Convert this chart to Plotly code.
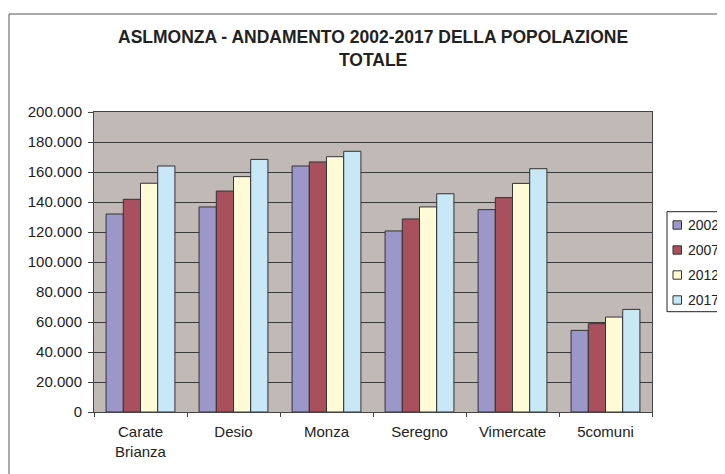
import plotly.graph_objects as go

categories = ["Carate<br>Brianza", "Desio", "Monza", "Seregno", "Vimercate", "5comuni"]
series_names = ["2002", "2007", "2012*", "2017*"]
v2002 = [132000, 136700, 164000, 120700, 134900, 54400]
v2007 = [141800, 147300, 166700, 128700, 142900, 58900]
v2012 = [152500, 156900, 170200, 136700, 152400, 63300]
v2017 = [164000, 168400, 173800, 145500, 162200, 68400]
y_ticks = [0, 20000, 40000, 60000, 80000, 100000, 120000, 140000, 160000, 180000, 200000]

values = [v2002, v2007, v2012, v2017]
colors = ["#9B97C9", "#A8505E", "#FFFBD6", "#C8E8F8"]

OFF = 8  # page body margin
W, H = 725 - OFF, 474 - OFF
L, R, T, B = 94 - OFF, 652 - OFF, 112 - OFF, 412 - OFF   # plot area pixels in figure
pw, ph = R - L, B - T

def px(x):
    # x given in reference-picture pixels
    return (x - OFF - L) / pw

def py(y):
    return (B - (y - OFF)) / ph

fig = go.Figure()
for name, vals, col in zip(series_names, values, colors):
    fig.add_trace(go.Bar(
        x=categories, y=vals, name=name,
        marker=dict(color=col, line=dict(color="#333333", width=1)),
        showlegend=False,
    ))

FONT = "Liberation Sans, Arial, sans-serif"

shapes = []
annotations = []

# outer chart border (extends beyond the picture on right and bottom)
shapes.append(dict(type="rect", xref="paper", yref="paper",
                   x0=px(9), x1=px(760), y0=py(520), y1=py(14),
                   line=dict(color="#555555", width=1), fillcolor="rgba(0,0,0,0)", layer="below"))

# legend box
shapes.append(dict(type="rect", xref="paper", yref="paper",
                   x0=px(667), x1=px(760), y0=py(311.7), y1=py(211.7),
                   line=dict(color="#222222", width=1), fillcolor="white"))
for i, (name, col) in enumerate(zip(series_names, colors)):
    cy = 225 + 25 * i
    shapes.append(dict(type="rect", xref="paper", yref="paper",
                       x0=px(673), x1=px(681.5), y0=py(cy + 4.2), y1=py(cy - 4.2),
                       line=dict(color="#333333", width=1), fillcolor=col))
    annotations.append(dict(text=name, xref="paper", yref="paper",
                            x=px(686), y=py(cy), xanchor="left", yanchor="middle",
                            showarrow=False, font=dict(family=FONT, size=14, color="#222222")))

# title
annotations.append(dict(text="<b>ASLMONZA - ANDAMENTO 2002-2017 DELLA POPOLAZIONE<br>TOTALE</b>",
                        xref="paper", yref="paper", x=0.5, y=py(48.5),
                        xanchor="center", yanchor="middle", showarrow=False,
                        font=dict(family=FONT, size=17.5, color="#222222")))

fig.update_layout(
    width=W, height=H,
    margin=dict(l=L, r=W - R, t=T, b=H - B, autoexpand=False),
    paper_bgcolor="white",
    plot_bgcolor="#C1B9B6",
    barmode="group",
    bargap=0.26,
    bargroupgap=0,
    separators=",.",
    showlegend=False,
    shapes=shapes,
    annotations=annotations,
    font=dict(family=FONT, color="#222222"),
)

fig.update_xaxes(
    showgrid=False,
    showline=True, linecolor="#444444", linewidth=1, mirror=True,
    ticks="outside", ticklen=4, tickcolor="#444444", tickson="boundaries",
    tickfont=dict(family=FONT, size=15, color="#222222"),
    ticklabelstandoff=6,
)
fig.update_yaxes(
    range=[0, 200000],
    tickvals=y_ticks,
    tickformat=",.0f",
    showgrid=True, gridcolor="#3A3A3A", gridwidth=1,
    zeroline=False,
    showline=True, linecolor="#444444", linewidth=1, mirror=True,
    ticks="outside", ticklen=5, tickcolor="#444444",
    tickfont=dict(family=FONT, size=15, color="#222222"),
    ticklabelstandoff=3,
)

fig.write_html("out.html")
